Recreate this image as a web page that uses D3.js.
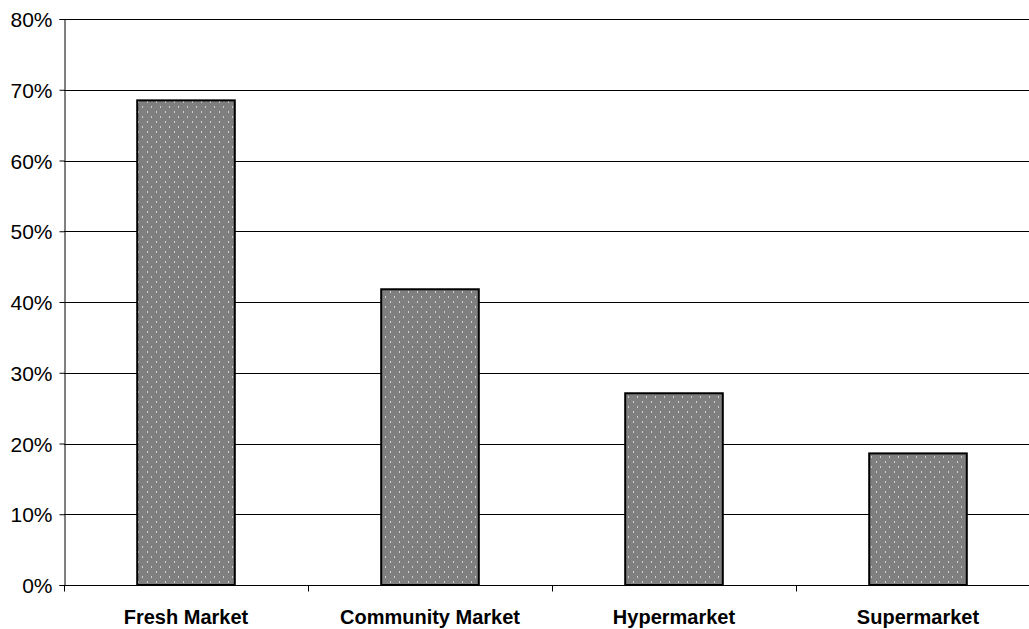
<!DOCTYPE html>
<html>
<head>
<meta charset="utf-8">
<script src="https://cdn.jsdelivr.net/npm/d3@7"></script>
<style>
  body { margin: 0; background: #fff; }
  svg { display: block; }
  text { font-family: "Liberation Sans", Arial, sans-serif; fill: #000; }
</style>
</head>
<body>
<svg id="chart" width="1029" height="629"></svg>
<script>
// data
var categories = ["Fresh Market", "Community Market", "Hypermarket", "Supermarket"];
var shares = [0.685, 0.418, 0.271, 0.186];
var yTicks = [0, 0.1, 0.2, 0.3, 0.4, 0.5, 0.6, 0.7, 0.8];

var margin = {top: 19, left: 64, bottom: 44},
    width = 976,
    height = 629 - margin.top - margin.bottom;

var svg = d3.select("#chart");

// dotted fill like the old excel pattern
var defs = svg.append("defs");
var pat = defs.append("pattern")
    .attr("id", "dots")
    .attr("patternUnits", "userSpaceOnUse")
    .attr("width", 9)
    .attr("height", 10);
pat.append("rect").attr("width", 9).attr("height", 10).attr("fill", "#7f7f7f");
pat.append("rect").attr("x", 2).attr("y", 2).attr("width", 1).attr("height", 2).attr("fill", "#cfcfcf");
pat.append("rect").attr("x", 6).attr("y", 7).attr("width", 1).attr("height", 2).attr("fill", "#cfcfcf");

var g = svg.append("g")
    .attr("transform", "translate(" + margin.left + "," + margin.top + ")");

var x = d3.scaleBand()
    .domain(categories)
    .range([0, width])
    .paddingInner(0.6)
    .paddingOuter(0.3);

var y = d3.scaleLinear()
    .domain([0, 0.8])
    .range([height, 0]);

// gridlines
g.append("g")
  .selectAll("line")
    .data(yTicks.slice(1))
  .enter().append("line")
    .attr("x1", 0)
    .attr("x2", width)
    .attr("y1", function(d) { return Math.round(y(d)) + 0.5; })
    .attr("y2", function(d) { return Math.round(y(d)) + 0.5; })
    .attr("stroke", "#000")
    .attr("stroke-width", 1);

// bars
g.selectAll(".bar")
    .data(shares)
  .enter().append("rect")
    .attr("class", "bar")
    .attr("x", function(d, i) { return x(categories[i]); })
    .attr("y", function(d) { return y(d); })
    .attr("width", x.bandwidth())
    .attr("height", function(d) { return height - y(d); })
    .attr("fill", "url(#dots)")
    .attr("stroke", "#000")
    .attr("stroke-width", 2);

// y axis
var yAxis = d3.axisLeft(y)
    .tickValues(yTicks)
    .tickFormat(d3.format(".0%"))
    .tickSize(5)
    .tickPadding(7);

var ya = g.append("g")
    .attr("transform", "translate(0.5,0)")
    .call(yAxis);
ya.select(".domain").attr("stroke", "#000");
ya.selectAll(".tick line").attr("stroke", "#000");
ya.selectAll(".tick text")
    .style("font-family", "'Liberation Sans', Arial, sans-serif")
    .style("font-size", "21px")
    .attr("fill", "#000")
    .attr("dy", "0.36em");

// x axis: ticks at the category boundaries
var step = x.step();
var xa = g.append("g")
    .attr("transform", "translate(0," + (height + 0.5) + ")");
xa.append("line")
    .attr("x1", 0).attr("x2", width)
    .attr("stroke", "#000");
xa.selectAll(".sep")
    .data(d3.range(categories.length))
  .enter().append("line")
    .attr("class", "sep")
    .attr("x1", function(i) { return Math.round(i * step) + 0.5; })
    .attr("x2", function(i) { return Math.round(i * step) + 0.5; })
    .attr("y1", 0)
    .attr("y2", 6)
    .attr("stroke", "#000");
xa.selectAll(".cat")
    .data(categories)
  .enter().append("text")
    .attr("class", "cat")
    .attr("x", function(d) { return x(d) + x.bandwidth() / 2; })
    .attr("y", 38.5)
    .attr("text-anchor", "middle")
    .style("font-size", "20px")
    .style("font-weight", "bold")
    .text(function(d) { return d; });
</script>
</body>
</html>
